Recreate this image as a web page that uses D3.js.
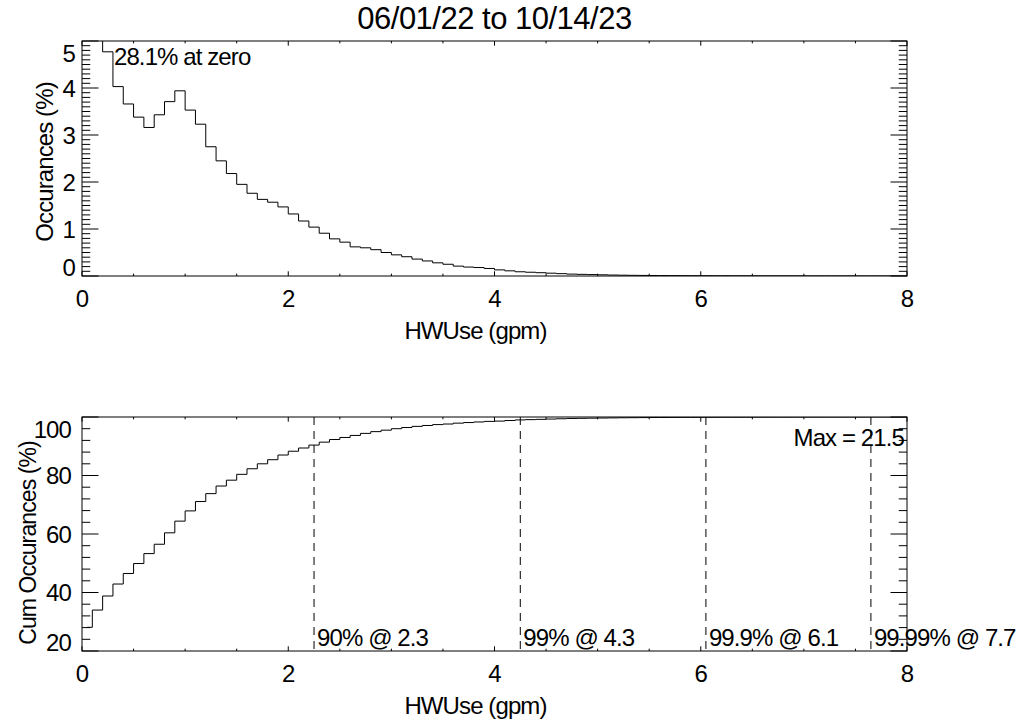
<!DOCTYPE html>
<html>
<head>
<meta charset="utf-8">
<script src="https://cdn.jsdelivr.net/npm/d3@7"></script>
<style>
  body { margin: 0; background: #fff; }
  text { font-family: "Liberation Sans", Arial, Helvetica, sans-serif; fill: #000; }
</style>
</head>
<body>
<svg id="chart" width="1016" height="721"></svg>
<script>
// ---- data -------------------------------------------------------------
const chartTitle = "06/01/22 to 10/14/23";
const xTitle = "HWUse (gpm)";
const topYTitle = "Occurances (%)";
const botYTitle = "Cum Occurances (%)";

// centre of each 0.1 gpm flow bin
const gpmBins = [
  0.05, 0.15, 0.25, 0.35, 0.45, 0.55, 0.65, 0.75, 0.85, 0.95,
  1.05, 1.15, 1.25, 1.35, 1.45, 1.55, 1.65, 1.75, 1.85, 1.95,
  2.05, 2.15, 2.25, 2.35, 2.45, 2.55, 2.65, 2.75, 2.85, 2.95,
  3.05, 3.15, 3.25, 3.35, 3.45, 3.55, 3.65, 3.75, 3.85, 3.95,
  4.05, 4.15, 4.25, 4.35, 4.45, 4.55, 4.65, 4.75, 4.85, 4.95,
  5.05, 5.15, 5.25, 5.35, 5.45, 5.55, 5.65, 5.75, 5.85, 5.95,
  6.05, 6.15, 6.25, 6.35, 6.45, 6.55, 6.65, 6.75, 6.85, 6.95,
  7.05, 7.15, 7.25, 7.35, 7.45, 7.55, 7.65, 7.75, 7.85, 7.95,
  8.05
];

// share of samples in each bin (%)
const occurPct = [
  28.1, 5.9, 4.77, 4.03, 3.66, 3.38, 3.16, 3.43, 3.71, 3.94,
  3.53, 3.23, 2.75, 2.45, 2.18, 1.95, 1.76, 1.63, 1.57, 1.47,
  1.32, 1.17, 1.04, 0.91, 0.79, 0.72, 0.62, 0.60, 0.56, 0.50,
  0.45, 0.41, 0.36, 0.32, 0.28, 0.25, 0.21, 0.19, 0.18, 0.16,
  0.13, 0.11, 0.09, 0.08, 0.07, 0.06, 0.05, 0.04, 0.035, 0.03,
  0.025, 0.02, 0.017, 0.014, 0.012, 0.010, 0.009, 0.008, 0.007, 0.006,
  0.006, 0.005, 0.005, 0.004, 0.004, 0.004, 0.003, 0.003, 0.003, 0.003,
  0.002, 0.002, 0.002, 0.002, 0.002, 0.001, 0.001, 0.001, 0.001, 0.001,
  0.001
];

// cumulative share of samples up to each bin (%)
const cumPct = [
  28.1, 34.0, 38.8, 42.9, 46.5, 49.9, 53.3, 56.5, 60.4, 64.4,
  67.9, 71.1, 73.8, 76.4, 78.4, 80.4, 82.3, 84.0, 85.4, 87.0,
  88.3, 89.4, 90.4, 91.4, 92.3, 93.0, 93.7, 94.4, 95.0, 95.5,
  96.0, 96.4, 96.8, 97.1, 97.4, 97.6, 97.9, 98.1, 98.3, 98.5,
  98.6, 98.8, 99.0, 99.1, 99.2, 99.3, 99.4, 99.5, 99.55, 99.6,
  99.65, 99.7, 99.74, 99.77, 99.8, 99.83, 99.85, 99.87, 99.88, 99.89,
  99.90, 99.91, 99.92, 99.93, 99.94, 99.95, 99.95, 99.96, 99.96, 99.97,
  99.97, 99.97, 99.98, 99.98, 99.98, 99.98, 99.99, 99.99, 99.99, 99.99,
  100
];

const zeroSharePct = 28.1;
const maxGpm = 21.5;
const pctLevels = [90, 99, 99.9, 99.99];
const pctGpm = [2.25, 4.25, 6.05, 7.65];

const xTicks = [0, 2, 4, 6, 8];
const xMinorTicks = [0.5, 1, 1.5, 2.5, 3, 3.5, 4.5, 5, 5.5, 6.5, 7, 7.5];
const topYTicks = [0, 1, 2, 3, 4, 5];
const topYMinor = [0.1, 0.2, 0.3, 0.4, 0.5, 0.6, 0.7, 0.8, 0.9,
  1.1, 1.2, 1.3, 1.4, 1.5, 1.6, 1.7, 1.8, 1.9,
  2.1, 2.2, 2.3, 2.4, 2.5, 2.6, 2.7, 2.8, 2.9,
  3.1, 3.2, 3.3, 3.4, 3.5, 3.6, 3.7, 3.8, 3.9,
  4.1, 4.2, 4.3, 4.4, 4.5, 4.6, 4.7, 4.8, 4.9];
const botYTicks = [20, 40, 60, 80, 100];
const botYMinor = [24, 28, 32, 36, 44, 48, 52, 56, 64, 68, 72, 76, 84, 88, 92, 96];

// ---- layout -----------------------------------------------------------
const svg = d3.select("#chart");
svg.append("rect").attr("width", 1016).attr("height", 721).attr("fill", "#fff");

const FONT = 24;
const TRACK = -0.9;
const CAP = 17;

const panels = [
  { top: 41, bottom: 276, left: 82, right: 907, yDomain: [0, 5],
    yTicks: topYTicks, yMinor: topYMinor, values: occurPct,
    yTitle: topYTitle, yTitleX: 53, yTitleY: 162, yTitleSize: 24, labelGap: 7 },
  { top: 417, bottom: 651, left: 82, right: 907, yDomain: [20, 100],
    yTicks: botYTicks, yMinor: botYMinor, values: cumPct,
    yTitle: botYTitle, yTitleX: 36, yTitleY: 543, yTitleSize: 23, labelGap: 11 }
];

function txt(g, s, x, y, opts = {}) {
  return g.append("text")
    .attr("x", x).attr("y", y)
    .attr("font-size", opts.size || FONT)
    .attr("letter-spacing", opts.track !== undefined ? opts.track : TRACK)
    .attr("text-anchor", opts.anchor || "start")
    .text(s);
}

panels.forEach((p, i) => {
  const g = svg.append("g");
  const x = d3.scaleLinear().domain([0, 8]).range([p.left, p.right]);
  const y = d3.scaleLinear().domain(p.yDomain).range([p.bottom, p.top]);
  p.x = x; p.y = y; p.g = g;

  const W = p.right - p.left, H = p.bottom - p.top;
  const xLen = 0.02 * H, yLen = 0.02 * W;

  const tickAxis = (axisFn, scale, vals, len, tx, ty) => {
    g.append("g")
      .attr("transform", `translate(${tx},${ty})`)
      .call(axisFn(scale).tickValues(vals).tickSize(-len).tickSizeOuter(0)
        .tickFormat("").offset(0))
      .call(a => a.select(".domain").remove())
      .call(a => a.selectAll("line").attr("stroke", "#000").attr("stroke-width", 1));
  };

  // inward ticks on all four sides
  tickAxis(d3.axisBottom, x, xTicks, xLen, 0, p.bottom);
  tickAxis(d3.axisBottom, x, xMinorTicks, xLen / 2, 0, p.bottom);
  tickAxis(d3.axisTop, x, xTicks, xLen, 0, p.top);
  tickAxis(d3.axisTop, x, xMinorTicks, xLen / 2, 0, p.top);
  tickAxis(d3.axisLeft, y, p.yTicks, yLen, p.left, 0);
  tickAxis(d3.axisLeft, y, p.yMinor, yLen / 2, p.left, 0);
  tickAxis(d3.axisRight, y, p.yTicks, yLen, p.right, 0);
  tickAxis(d3.axisRight, y, p.yMinor, yLen / 2, p.right, 0);

  // frame
  g.append("rect")
    .attr("x", p.left).attr("y", p.top).attr("width", W).attr("height", H)
    .attr("fill", "none").attr("stroke", "#000").attr("stroke-width", 1);

  // clipped step line (bin-centred histogram steps)
  const clipId = "clip" + i;
  svg.append("clipPath").attr("id", clipId)
    .append("rect").attr("x", p.left).attr("y", p.top).attr("width", W).attr("height", H);

  const series = gpmBins.map((b, k) => ({ gpm: b, v: p.values[k] }));
  g.append("path")
    .datum(series)
    .attr("clip-path", `url(#${clipId})`)
    .attr("fill", "none").attr("stroke", "#000").attr("stroke-width", 1)
    .attr("d", d3.line().x(d => x(d.gpm)).y(d => y(d.v)).curve(d3.curveStep));

  // x tick labels
  xTicks.forEach(t => txt(g, d3.format("d")(t), x(t), p.bottom + 31, { anchor: "middle" }));

  // y tick labels, kept inside the frame at both ends
  p.yTicks.forEach(t => {
    let base = y(t) + CAP / 2;
    base = Math.max(base, p.top + CAP + 4);
    base = Math.min(base, p.bottom);
    txt(g, d3.format("d")(t), p.left - p.labelGap, base, { anchor: "end" });
  });

  // axis titles
  txt(g, xTitle, (p.left + p.right) / 2 - 19, p.bottom + 63, { anchor: "middle" });
  g.append("text")
    .attr("transform", `translate(${p.yTitleX},${p.yTitleY}) rotate(-90)`)
    .attr("font-size", p.yTitleSize).attr("letter-spacing", TRACK)
    .attr("text-anchor", "middle")
    .text(p.yTitle);
});

// title
txt(svg, chartTitle, (panels[0].left + panels[0].right) / 2, 29, { anchor: "middle", size: 31, track: -0.5 });

// top panel annotation
{
  const p = panels[0];
  txt(p.g, `${zeroSharePct}% at zero`, p.x(0.31), p.y(4.5));
}

// bottom panel: percentile markers and max annotation
{
  const p = panels[1];
  const fmt1 = v => (Math.round(v * 10 + 1e-9) / 10).toFixed(1);
  pctLevels.forEach((lvl, k) => {
    const gx = p.x(pctGpm[k]);
    p.g.append("line")
      .attr("x1", gx).attr("x2", gx)
      .attr("y1", p.y(100)).attr("y2", p.y(20))
      .attr("stroke", "#000").attr("stroke-width", 1)
      .attr("stroke-dasharray", "8,6");
    txt(p.g, `${lvl}% @ ${fmt1(pctGpm[k])}`, gx + 3, p.y(21.8));
  });
  txt(p.g, `Max = ${maxGpm}`, p.x(6.9), p.y(90));
}
</script>
</body>
</html>
